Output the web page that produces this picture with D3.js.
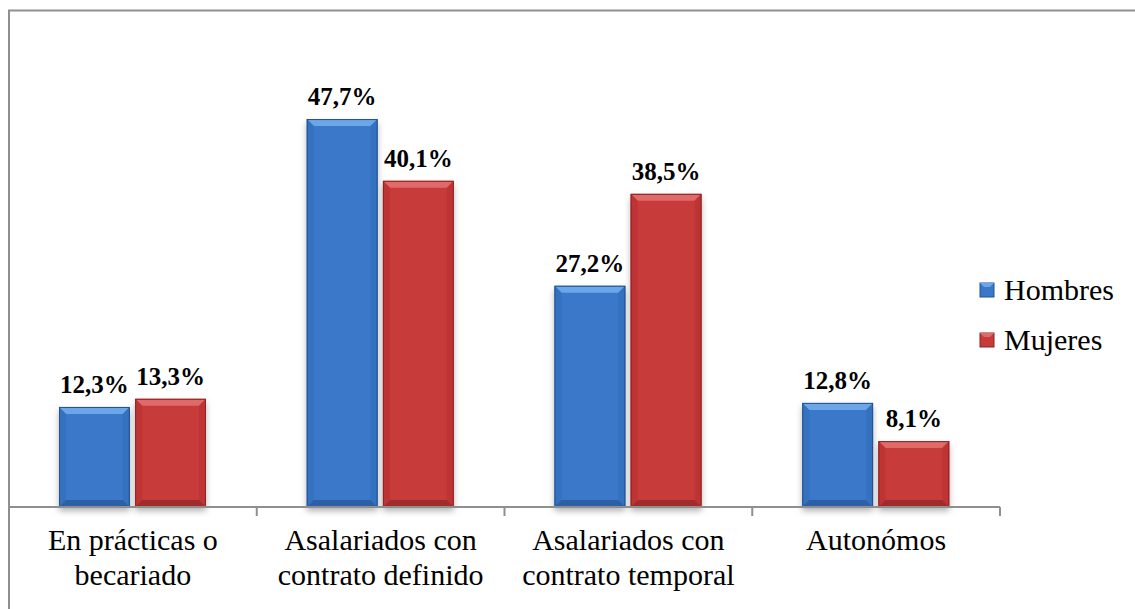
<!DOCTYPE html>
<html>
<head>
<meta charset="utf-8">
<script src="https://cdn.jsdelivr.net/npm/d3@7"></script>
<style>
  body { margin: 0; background: #fff; }
  svg { display: block; font-family: "Liberation Serif", "Times New Roman", serif; }
</style>
</head>
<body>
<div id="plot"></div>
<script>
// chart data
var categories = [["En prácticas o", "becariado"], ["Asalariados con", "contrato definido"], ["Asalariados con", "contrato temporal"], ["Autonómos"]];
var series = ["Hombres", "Mujeres"];
var hombres = [12.3, 47.7, 27.2, 12.8];
var mujeres = [13.3, 40.1, 38.5, 8.1];

var W = 1135, H = 609;

var svg = d3.select("#plot").append("svg")
    .attr("width", W).attr("height", H);

var defs = svg.append("defs");
var f = defs.append("filter").attr("id", "shadow")
    .attr("x", "-20%").attr("y", "-10%").attr("width", "140%").attr("height", "130%");
f.append("feDropShadow").attr("dx", 0).attr("dy", 4).attr("stdDeviation", 3)
    .attr("flood-color", "#000").attr("flood-opacity", 0.3);

var colors = {
  Hombres: {face: "#3b78c9", top: "#6aa6e8", side: "#3470bd", bottom: "#2c5fa3", edge: "#24528f"},
  Mujeres: {face: "#c83b3b", top: "#e06a6a", side: "#bd3434", bottom: "#a02b2b", edge: "#8a2424"}
};

// outer frame (only left and top visible)
svg.append("rect")
    .attr("x", 9).attr("y", 10.5).attr("width", 1300).attr("height", 800)
    .attr("fill", "none").attr("stroke", "#8f8f8f").attr("stroke-width", 2);

var x0 = d3.scaleBand().domain(d3.range(categories.length)).range([9, 1000]);
var x1 = d3.scaleBand().domain(series).range([50, 197]).paddingInner(0.07);
var y = d3.scaleLinear().domain([0, 60]).range([507, 19]);

var data = categories.map(function(c, i) {
  return {i: i, values: [{s: "Hombres", v: hombres[i]}, {s: "Mujeres", v: mujeres[i]}]};
});

var groups = svg.selectAll(".grp").data(data).join("g")
    .attr("transform", d => `translate(${x0(d.i)},0)`);

var bars = groups.selectAll(".bar").data(d => d.values).join("g").attr("class", "bar");

bars.each(function(d) {
  var g = d3.select(this);
  var bx = x1(d.s), bw = x1.bandwidth(), by = y(d.v), bh = y(0) - y(d.v);
  var c = colors[d.s];
  var b = 7;
  g.append("rect").attr("x", bx).attr("y", by).attr("width", bw).attr("height", bh)
      .attr("fill", c.face).attr("filter", "url(#shadow)");
  // bevel pieces
  g.append("path").attr("fill", c.top)
      .attr("d", `M${bx},${by}L${bx + bw},${by}L${bx + bw - b},${by + b}L${bx + b},${by + b}Z`);
  g.append("path").attr("fill", c.side).attr("opacity", 0.9)
      .attr("d", `M${bx},${by}L${bx + b},${by + b}L${bx + b},${by + bh - b}L${bx},${by + bh}Z`);
  g.append("path").attr("fill", c.side).attr("opacity", 0.9)
      .attr("d", `M${bx + bw},${by}L${bx + bw - b},${by + b}L${bx + bw - b},${by + bh - b}L${bx + bw},${by + bh}Z`);
  g.append("path").attr("fill", c.bottom)
      .attr("d", `M${bx},${by + bh}L${bx + b},${by + bh - b}L${bx + bw - b},${by + bh - b}L${bx + bw},${by + bh}Z`);
  g.append("rect").attr("x", bx + 0.5).attr("y", by + 0.5).attr("width", bw - 1).attr("height", bh - 1)
      .attr("fill", "none").attr("stroke", c.edge).attr("stroke-width", 1);
  // value label
  g.append("text")
      .attr("x", bx + bw / 2).attr("y", by - 14)
      .attr("text-anchor", "middle")
      .style("font-size", "25px").style("font-weight", "bold").attr("fill", "#000")
      .text(String(d.v.toFixed(1)).replace(".", ",") + "%");
});

// x axis
var axis = svg.append("g").attr("transform", "translate(0,507)");
axis.append("line").attr("x1", 9).attr("x2", 1000).attr("y1", 0).attr("y2", 0)
    .attr("stroke", "#8f8f8f").attr("stroke-width", 2);
axis.selectAll(".tick").data(d3.range(1, categories.length + 1)).join("line")
    .attr("x1", d => x0.step() * d + 9).attr("x2", d => x0.step() * d + 9)
    .attr("y1", 0).attr("y2", 9)
    .attr("stroke", "#8f8f8f").attr("stroke-width", 2);

categories.forEach(function(lines, i) {
  lines.forEach(function(t, j) {
    svg.append("text")
        .attr("x", x0(i) + x0.bandwidth() / 2).attr("y", 550 + j * 35)
        .attr("text-anchor", "middle")
        .style("font-size", "30px").attr("fill", "#000")
        .text(t);
  });
});

// legend
var legend = svg.selectAll(".leg").data(series).join("g")
    .attr("transform", (d, i) => `translate(980,${283 + i * 50})`);
legend.append("rect").attr("width", 14).attr("height", 14)
    .attr("fill", d => colors[d].face).attr("stroke", d => colors[d].edge);
legend.append("path").attr("fill", d => colors[d].top)
    .attr("d", "M0,0L14,0L10,4L4,4Z");
legend.append("text")
    .attr("x", 24).attr("y", 17)
    .style("font-size", "30px").attr("fill", "#000")
    .text(d => d);
</script>
</body>
</html>
